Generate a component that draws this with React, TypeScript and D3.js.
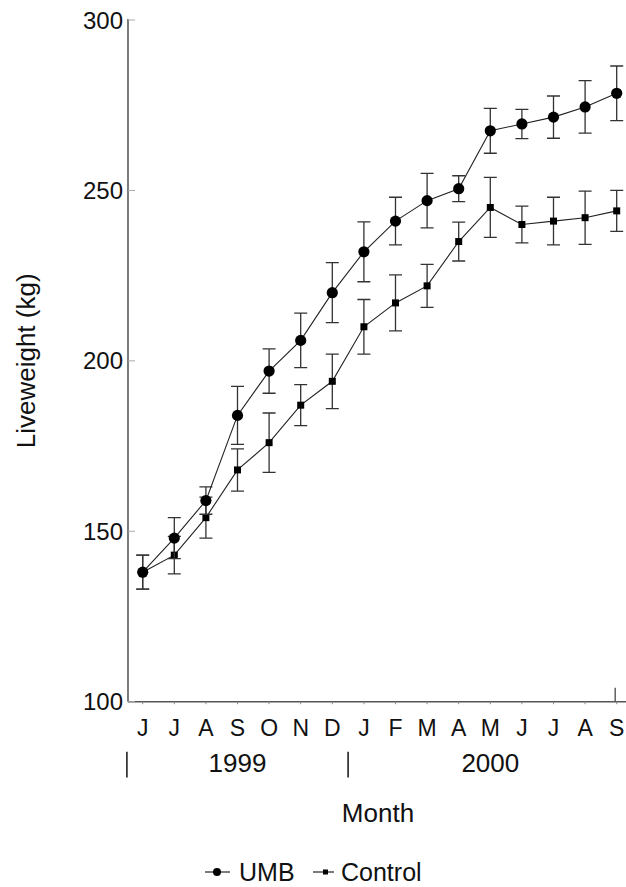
import React, { useEffect, useRef } from 'react';
import * as d3 from 'd3';

const months = ['J', 'J', 'A', 'S', 'O', 'N', 'D', 'J', 'F', 'M', 'A', 'M', 'J', 'J', 'A', 'S'];
const years = [
  { label: '1999', from: 0, to: 6 },
  { label: '2000', from: 7, to: 15 },
];
const yTicks = [100, 150, 200, 250, 300];

const umb = [138, 148, 159, 184, 197, 206, 220, 232, 241, 247, 250.5, 267.5, 269.5, 271.5, 274.5, 278.5];
const umbErr = [5, 6, 4, 8.5, 6.5, 8, 8.8, 8.8, 7, 8, 3.8, 6.6, 4.3, 6.2, 7.7, 8];
const control = [138, 143, 154, 168, 176, 187, 194, 210, 217, 222, 235, 245, 240, 241, 242, 244];
const controlErr = [5, 5.5, 6, 6.2, 8.7, 6, 8, 8, 8.2, 6.3, 5.7, 8.8, 5.4, 7, 7.8, 6];

const W = 626;
const H = 887;
const FONT = '"Liberation Sans", Arial, Helvetica, sans-serif';

const LiveweightChart = () => {
  const ref = useRef<SVGSVGElement>(null);

  useEffect(() => {
    const svg = d3.select(ref.current);
    svg.selectAll('*').remove();

    const left = 128;
    const bottom = 701.7;

    const x = d3.scaleLinear().domain([0, months.length - 1]).range([142.7, 616.7]);
    const y = d3.scaleLinear().domain([100, 300]).range([bottom, 20]);

    // axes
    svg.append('line')
      .attr('x1', left).attr('x2', left)
      .attr('y1', 19).attr('y2', bottom)
      .attr('stroke', '#444').attr('stroke-width', 1.4);
    svg.append('line')
      .attr('x1', left).attr('x2', W)
      .attr('y1', bottom).attr('y2', bottom)
      .attr('stroke', '#555').attr('stroke-width', 1.5);

    svg.selectAll('.ytick')
      .data(yTicks)
      .enter().append('line')
      .attr('x1', left).attr('x2', left + 7)
      .attr('y1', d => y(d)).attr('y2', d => y(d))
      .attr('stroke', '#aaa').attr('stroke-width', 1);

    svg.selectAll('.ylab')
      .data(yTicks)
      .enter().append('text')
      .attr('x', 123)
      .attr('y', d => y(d) + 8.5)
      .attr('text-anchor', 'end')
      .attr('font-size', 24)
      .attr('font-family', FONT)
      .attr('fill', '#111')
      .text(d => d);

    // small month ticks under the axis
    svg.selectAll('.xtick')
      .data(months)
      .enter().append('line')
      .attr('x1', (d, i) => x(i)).attr('x2', (d, i) => x(i))
      .attr('y1', bottom).attr('y2', bottom + 2.5)
      .attr('stroke', '#888').attr('stroke-width', 1);

    // end tick at last month
    svg.append('line')
      .attr('x1', x(months.length - 1) - 1.5).attr('x2', x(months.length - 1) - 1.5)
      .attr('y1', bottom - 14).attr('y2', bottom)
      .attr('stroke', '#555').attr('stroke-width', 1.4);

    svg.selectAll('.mlab')
      .data(months)
      .enter().append('text')
      .attr('x', (d, i) => x(i))
      .attr('y', 736)
      .attr('text-anchor', 'middle')
      .attr('font-size', 23)
      .attr('font-family', FONT)
      .attr('fill', '#111')
      .text(d => d);

    const step = x(1) - x(0);
    years.forEach(yr => {
      svg.append('text')
        .attr('x', (x(yr.from) + x(yr.to)) / 2)
        .attr('y', 771.7)
        .attr('text-anchor', 'middle')
        .attr('font-size', 26)
        .attr('font-family', FONT)
        .attr('fill', '#111')
        .text(yr.label);
      svg.append('line')
        .attr('x1', x(yr.from) - step / 2).attr('x2', x(yr.from) - step / 2)
        .attr('y1', 751.7).attr('y2', 777.5)
        .attr('stroke', '#222').attr('stroke-width', 1.6);
    });

    svg.append('text')
      .attr('x', 378).attr('y', 821.7)
      .attr('text-anchor', 'middle')
      .attr('font-size', 26)
      .attr('font-family', FONT)
      .attr('fill', '#111')
      .text('Month');

    svg.append('text')
      .attr('transform', `translate(35,${(y(300) + y(100)) / 2}) rotate(-90)`)
      .attr('text-anchor', 'middle')
      .attr('font-size', 26)
      .attr('font-family', FONT)
      .attr('fill', '#111')
      .text('Liveweight (kg)');

    const line = d3.line<number>()
      .x((d, i) => x(i))
      .y(d => y(d));

    const drawSeries = (vals: number[], errs: number[], marker: 'circle' | 'square') => {
      const g = svg.append('g');
      g.selectAll('.err')
        .data(vals)
        .enter().append('path')
        .attr('d', (d, i) => {
          const cx = x(i);
          const t = y(d + errs[i]);
          const b = y(d - errs[i]);
          return `M${cx},${t}V${b}M${cx - 6.5},${t}H${cx + 6.5}M${cx - 6.5},${b}H${cx + 6.5}`;
        })
        .attr('fill', 'none')
        .attr('stroke', '#333')
        .attr('stroke-width', 1.3);

      g.append('path')
        .datum(vals)
        .attr('d', line)
        .attr('fill', 'none')
        .attr('stroke', '#222')
        .attr('stroke-width', 1.1);

      if (marker === 'circle') {
        g.selectAll('.pt')
          .data(vals)
          .enter().append('circle')
          .attr('cx', (d, i) => x(i))
          .attr('cy', d => y(d))
          .attr('r', 5.6)
          .attr('fill', '#000');
      } else {
        g.selectAll('.pt')
          .data(vals)
          .enter().append('rect')
          .attr('x', (d, i) => x(i) - 3.5)
          .attr('y', d => y(d) - 3.5)
          .attr('width', 7)
          .attr('height', 7)
          .attr('fill', '#000');
      }
    };

    drawSeries(control, controlErr, 'square');
    drawSeries(umb, umbErr, 'circle');

    // legend
    const ly = 872;
    const lg = svg.append('g');
    lg.append('line')
      .attr('x1', 205).attr('x2', 230).attr('y1', ly).attr('y2', ly)
      .attr('stroke', '#222').attr('stroke-width', 1.2);
    lg.append('circle')
      .attr('cx', 217).attr('cy', ly).attr('r', 4).attr('fill', '#000');
    lg.append('text')
      .attr('x', 239).attr('y', 881)
      .attr('font-size', 25).attr('font-family', FONT).attr('fill', '#111')
      .text('UMB');
    lg.append('line')
      .attr('x1', 313).attr('x2', 334).attr('y1', ly).attr('y2', ly)
      .attr('stroke', '#222').attr('stroke-width', 1.2);
    lg.append('rect')
      .attr('x', 323).attr('y', ly - 2.5).attr('width', 5).attr('height', 5).attr('fill', '#000');
    lg.append('text')
      .attr('x', 341).attr('y', 881)
      .attr('font-size', 25).attr('font-family', FONT).attr('fill', '#111')
      .text('Control');
  }, []);

  return (
    <svg
      ref={ref}
      width={W}
      height={H}
      style={{ position: 'absolute', left: 0, top: 0, background: '#fff' }}
    />
  );
};

export default function App() {
  return <LiveweightChart />;
}
